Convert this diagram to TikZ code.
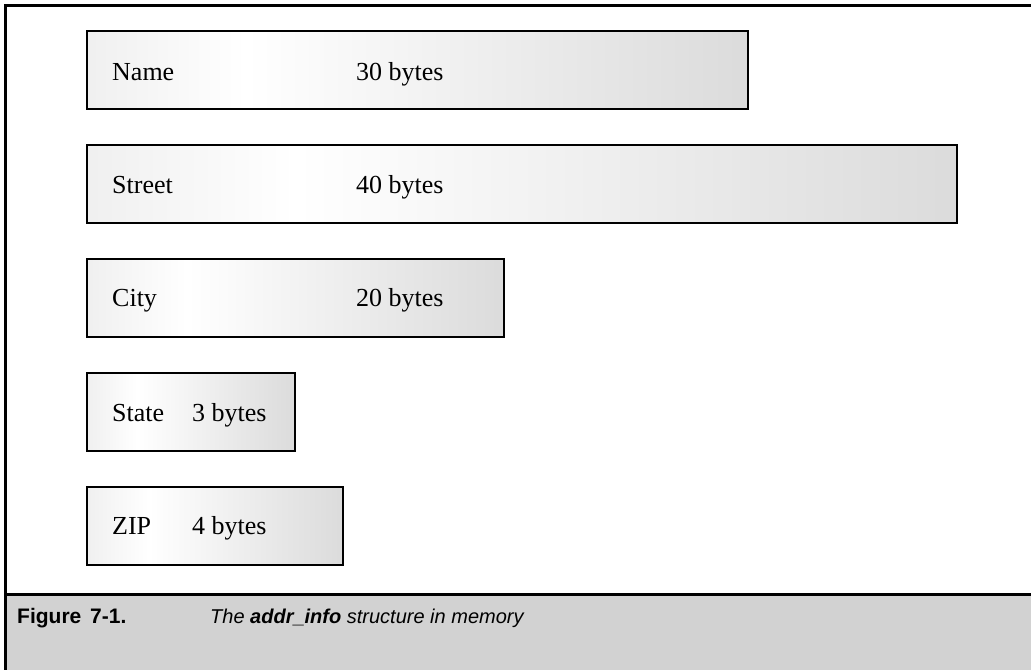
\documentclass[tikz,border=0pt]{standalone}
\usepackage{fontspec}
\setmainfont{Liberation Serif}
\setsansfont{Liberation Sans}
\usepackage{tikz}
\usetikzlibrary{positioning}

\pgfdeclarehorizontalshading{fieldshade}{100bp}{color(0bp)=(gray!12); color(25bp)=(gray!12); color(37bp)=(white); color(75bp)=(gray!28); color(100bp)=(gray!28)}

\tikzset{
  fieldbox/.style={shape=rectangle, draw=black, line width=2pt, shading=fieldshade, minimum height=78pt, anchor=north west, inner sep=0pt},
  fieldtxt/.style={anchor=base west, inner sep=0pt, font=\fontsize{26}{31}\selectfont},
  captxt/.style={anchor=base west, inner sep=0pt, font=\sffamily\fontsize{21}{25}\selectfont}
}

\begin{document}
\begin{tikzpicture}[x=1pt,y=-1pt]
\useasboundingbox (0,0) rectangle (1031,670);

% frame and caption bar
\fill[gray!35] (7,596) rectangle (1031,670);
\draw[line width=3pt] (1031,5.5) -- (5.5,5.5) -- (5.5,670);
\draw[line width=3.5pt] (5.5,594.5) -- (1031,594.5);

% fields of the structure
\node[fieldbox, minimum width=661pt] (f1) at (86,30) {};
\node[fieldbox, minimum width=870pt, below=34pt of f1.south west, anchor=north west] (f2) {};
\node[fieldbox, minimum width=417pt, below=34pt of f2.south west, anchor=north west] (f3) {};
\node[fieldbox, minimum width=208pt, below=34pt of f3.south west, anchor=north west] (f4) {};
\node[fieldbox, minimum width=256pt, below=34pt of f4.south west, anchor=north west] (f5) {};

\node[fieldtxt] (t1) at (112,80) {Name};
\node[fieldtxt] (t2) at (112,193) {Street};
\node[fieldtxt] (t3) at (112,306) {City};
\node[fieldtxt] (t4) at (112,421) {State};
\node[fieldtxt] (t5) at (112,534) {ZIP};

\node[fieldtxt] (s1) at (356,80) {30 bytes};
\node[fieldtxt] (s2) at (356,193) {40 bytes};
\node[fieldtxt] (s3) at (356,306) {20 bytes};
\node[fieldtxt] (s4) at (192,421) {3 bytes};
\node[fieldtxt] (s5) at (192,534) {4 bytes};

% caption
\node[captxt] (fig) at (17,623) {\bfseries Figure\hspace{3pt} 7-1.};
\node[captxt, font=\sffamily\fontsize{20}{24}\selectfont] (cap) at (210,623) {\itshape The \textbf{addr\_info} structure in memory};
\end{tikzpicture}
\end{document}
